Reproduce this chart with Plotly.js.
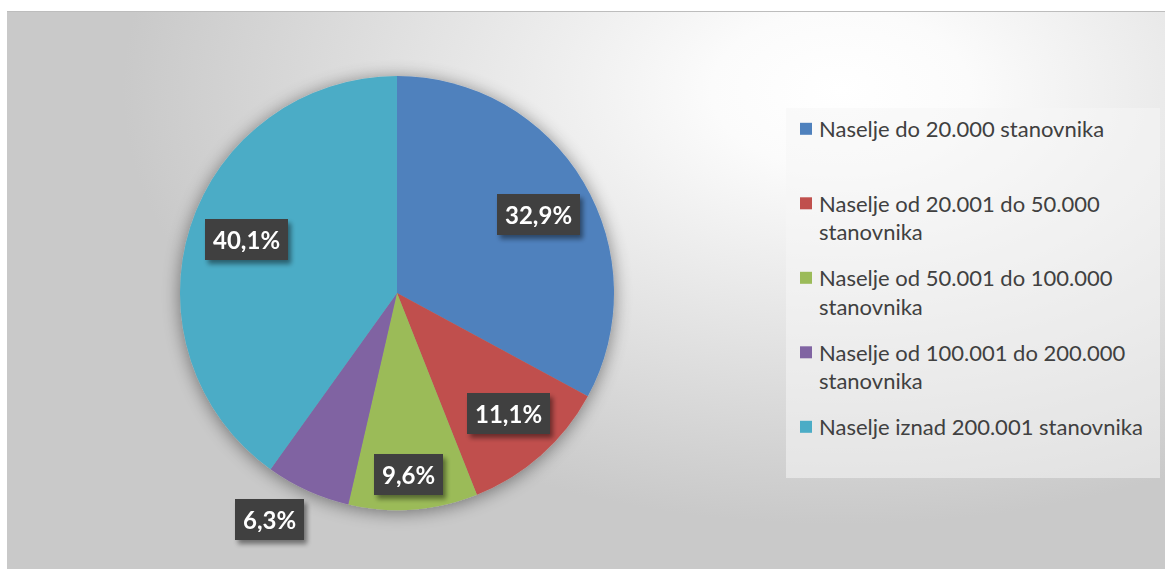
<!DOCTYPE html>
<html><head><meta charset="utf-8">
<script src="https://cdn.plot.ly/plotly-3.0.1.min.js"></script>
<style>
html,body{margin:0;padding:0;background:#fff;}
#wrap{position:relative;width:1165px;height:569px;overflow:hidden;}
#bg{position:absolute;left:7px;top:11px;width:1158px;height:558px;border-top:1px solid #bdbdbd;box-sizing:border-box;
 background: radial-gradient(ellipse 62% 78% at 72% 14%, #ffffff 0%, #fbfbfb 18%, #e3e3e3 58%, #c9c9c9 100%);}
#chart{position:absolute;left:0;top:0;width:1165px;height:569px;}
</style></head>
<body><div id="wrap"><div id="bg"></div><div id="chart"></div></div>
<script>
// ---- data ----
const categories = [
  "Naselje do 20.000 stanovnika",
  "Naselje od 20.001 do 50.000 stanovnika",
  "Naselje od 50.001 do 100.000 stanovnika",
  "Naselje od 100.001 do 200.000 stanovnika",
  "Naselje iznad 200.001 stanovnika"
];
const legendLabels = [
  "Naselje do 20.000 stanovnika<br>&nbsp;",
  "Naselje od 20.001 do 50.000<br>stanovnika",
  "Naselje od 50.001 do 100.000<br>stanovnika",
  "Naselje od 100.001 do 200.000<br>stanovnika",
  "Naselje iznad 200.001 stanovnika<br>&nbsp;"
];
const shares = [32.9, 11.1, 9.6, 6.3, 40.1];
const colors = ["#4F81BD", "#C0504D", "#9BBB59", "#8064A2", "#4BACC6"];

// ---- style / geometry ----
const W = 1165, H = 569;
const CX = 397, CY = 293, R = 217;                      // pie centre & radius (px)
const labelRadius = [0.744, 0.755, 0.84, 1.20, 0.738];  // label distance (fraction of R)
const labelShift  = [1.7, -1.1, 0.7, 5.1, 1.7];         // label angle tweak (deg)
const FONT = "Lato, 'Open Sans', sans-serif";
const LEG = {left: 786, top: 108, width: 374, height: 370, step: 74.5, textShift: -7};

const fmt = v => v.toFixed(1).replace('.', ',') + '%';
const total = shares.reduce((a, b) => a + b, 0);

const annotations = [];
let cum = 0;
shares.forEach((v, i) => {
  const mid = (cum + v / 2) / total * 2 * Math.PI + labelShift[i] * Math.PI / 180;
  cum += v;
  const px = CX + Math.sin(mid) * R * labelRadius[i];
  const py = CY - Math.cos(mid) * R * labelRadius[i];
  annotations.push({
    x: px / W, y: 1 - py / H, xref: 'paper', yref: 'paper',
    text: '<b>' + fmt(v) + '</b>', showarrow: false,
    font: {family: FONT, size: 24, color: '#ffffff'},
    bgcolor: '#404040', borderpad: 8, borderwidth: 0, height: 25,
    xanchor: 'center', yanchor: 'middle'
  });
});

const trace = {
  type: 'pie',
  labels: legendLabels,
  values: shares,
  sort: false,
  direction: 'clockwise',
  rotation: 0,
  textinfo: 'none',
  hoverinfo: 'skip',
  marker: {colors: colors, line: {width: 0}},
  domain: {x: [(CX - R) / W, (CX + R) / W], y: [1 - (CY + R) / H, 1 - (CY - R) / H]}
};

const layout = {
  width: W, height: H,
  margin: {l: 0, r: 0, t: 0, b: 0},
  paper_bgcolor: 'rgba(0,0,0,0)',
  plot_bgcolor: 'rgba(0,0,0,0)',
  showlegend: true,
  legend: {
    x: LEG.left / W, y: 1 - LEG.top / H, xanchor: 'left', yanchor: 'top',
    bgcolor: 'rgba(246,246,246,0.55)', borderwidth: 0,
    valign: 'top',
    font: {family: FONT, size: 22, color: '#404040'},
    tracegroupgap: 0
  },
  annotations: annotations
};

Plotly.newPlot('chart', [trace], layout, {displayModeBar: false, staticPlot: true}).then(gd => {
  const svg = gd.querySelector('svg.main-svg');
  const NS = 'http://www.w3.org/2000/svg';
  let defs = svg.querySelector('defs');
  if (!defs) { defs = document.createElementNS(NS, 'defs'); svg.insertBefore(defs, svg.firstChild); }
  defs.insertAdjacentHTML('beforeend',
    '<filter id="pieGlow" x="-20%" y="-20%" width="140%" height="140%">' +
      '<feGaussianBlur in="SourceAlpha" stdDeviation="9"/>' +
      '<feOffset dx="0" dy="2" result="b"/>' +
      '<feComponentTransfer><feFuncA type="linear" slope="0.45"/></feComponentTransfer>' +
      '<feMerge><feMergeNode/><feMergeNode in="SourceGraphic"/></feMerge>' +
    '</filter>' +
    '<filter id="boxShadow" x="-20%" y="-30%" width="150%" height="180%">' +
      '<feGaussianBlur in="SourceAlpha" stdDeviation="2.5"/>' +
      '<feOffset dx="3" dy="4"/>' +
      '<feComponentTransfer><feFuncA type="linear" slope="0.45"/></feComponentTransfer>' +
      '<feMerge><feMergeNode/><feMergeNode in="SourceGraphic"/></feMerge>' +
    '</filter>');
  gd.querySelectorAll('.pielayer .trace').forEach(g => g.setAttribute('filter', 'url(#pieGlow)'));
  gd.querySelectorAll('.annotation').forEach(g => g.setAttribute('filter', 'url(#boxShadow)'));

  // legend spacing to match the reference (uniform item pitch)
  const items = Array.from(gd.querySelectorAll('.legend .traces'));
  const pos = items.map(g => {
    const m = /translate\(\s*([-\d.e]+)[ ,]+([-\d.e]+)\s*\)/.exec(g.getAttribute('transform') || '');
    return m ? [parseFloat(m[1]), parseFloat(m[2])] : [0, 0];
  });
  items.forEach((g, i) => {
    g.setAttribute('transform', 'translate(' + pos[i][0] + ',' + (pos[0][1] + i * LEG.step) + ')');
    const t = g.querySelector('text.legendtext');
    if (t) t.setAttribute('transform', 'translate(' + LEG.textShift + ',0)');
  });
  const bg = gd.querySelector('.legend rect.bg');
  if (bg) { bg.setAttribute('width', LEG.width); bg.setAttribute('height', LEG.height); }
  gd.querySelectorAll('clipPath[id^="legend"] rect').forEach(r => {
    r.setAttribute('width', LEG.width); r.setAttribute('height', LEG.height);
  });
});
</script>
</body></html>
